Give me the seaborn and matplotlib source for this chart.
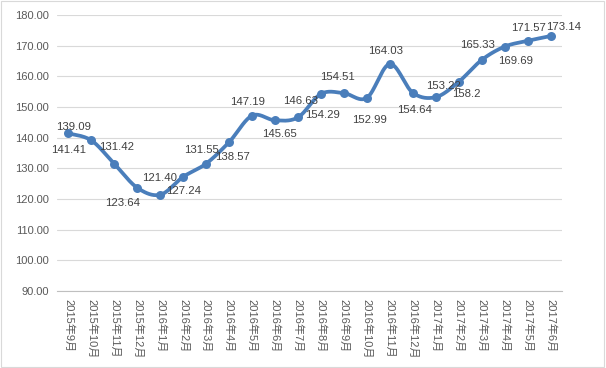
import numpy as np
import pandas as pd
import matplotlib
matplotlib.use("Agg")
import matplotlib.pyplot as plt
import seaborn as sns
from matplotlib.patches import Rectangle

months = ["2015年9月", "2015年10月", "2015年11月", "2015年12月", "2016年1月", "2016年2月",
          "2016年3月", "2016年4月", "2016年5月", "2016年6月", "2016年7月", "2016年8月",
          "2016年9月", "2016年10月", "2016年11月", "2016年12月", "2017年1月", "2017年2月",
          "2017年3月", "2017年4月", "2017年5月", "2017年6月"]
values = [141.41, 139.09, 131.42, 123.64, 121.40, 127.24, 131.55, 138.57, 147.19, 145.65,
          146.63, 154.29, 154.51, 152.99, 164.03, 154.64, 153.22, 158.2, 165.33, 169.69,
          171.57, 173.14]
value_labels = ["141.41", "139.09", "131.42", "123.64", "121.40", "127.24", "131.55", "138.57",
                "147.19", "145.65", "146.63", "154.29", "154.51", "152.99", "164.03", "154.64",
                "153.22", "158.2", "165.33", "169.69", "171.57", "173.14"]
y_ticks = [90, 100, 110, 120, 130, 140, 150, 160, 170, 180]

# label offsets in pixels (dx, dy with y down) - layout only
label_offsets = [(0, 17), (-18, -13), (2, -17), (-15, 15), (-1, -17), (0, 14), (-5, -14),
                 (3, 15), (-5, -14), (4, 14), (3, -16), (2, 21), (-6, -16), (3, 22),
                 (-4, -13), (2, 17), (8, -11), (8, 12), (-4, -15), (11, 14), (1, -13), (13, -9)]

sns.set_theme(style="white")
plt.rcParams['font.family'] = ['Liberation Sans', 'Noto Sans CJK SC', 'DejaVu Sans']

fig = plt.figure(figsize=(6.06, 3.68), dpi=100)
ax = fig.add_axes([57 / 606, 1 - 291 / 368, 505 / 606, 276 / 368])

df = pd.DataFrame({"x": np.arange(len(values)), "y": values})

# Smoothed curve (Catmull-Rom style, like Excel's smoothed line)
x = df["x"].to_numpy(dtype=float)
y = df["y"].to_numpy(dtype=float)
px = np.concatenate([[x[0]], x, [x[-1]]])
py = np.concatenate([[y[0]], y, [y[-1]]])
sx, sy = [], []
t = np.linspace(0, 1, 30)
for i in range(1, len(px) - 2):
    p0 = np.array([px[i], py[i]])
    p3 = np.array([px[i + 1], py[i + 1]])
    c1 = p0 + (np.array([px[i + 1], py[i + 1]]) - np.array([px[i - 1], py[i - 1]])) / 6
    c2 = p3 - (np.array([px[i + 2], py[i + 2]]) - np.array([px[i], py[i]])) / 6
    b = ((1 - t) ** 3)[:, None] * p0 + (3 * (1 - t) ** 2 * t)[:, None] * c1 + \
        (3 * (1 - t) * t ** 2)[:, None] * c2 + (t ** 3)[:, None] * p3
    sx.extend(b[:, 0]); sy.extend(b[:, 1])
smooth = pd.DataFrame({"x": sx, "y": sy})

line_color = "#4A7EBB"
sns.lineplot(data=smooth, x="x", y="y", ax=ax, color=line_color, linewidth=2.7,
             sort=False, estimator=None, zorder=3)
sns.scatterplot(data=df, x="x", y="y", ax=ax, color=line_color, s=42,
                edgecolor=line_color, linewidth=0, zorder=4)

for i, (lab, off) in enumerate(zip(value_labels, label_offsets)):
    ax.annotate(lab, (i, values[i]), xytext=(off[0], -off[1]), textcoords="offset pixels",
                ha="center", va="center", fontsize=8.2, color="#404040", zorder=5)

ax.set_xlim(-0.5, len(values) - 0.5)
ax.set_ylim(90, 180)
ax.set_yticks(y_ticks)
ax.set_yticklabels([f"{v:.2f}" for v in y_ticks], fontsize=8, color="#595959")
ax.set_xticks(np.arange(len(months)))
ax.set_xticklabels(months, rotation=-90, fontsize=8, color="#595959", va="top", ha="center")
ax.tick_params(axis="x", length=0, pad=6)
ax.tick_params(axis="y", length=0, pad=6)
ax.set_xticks(np.arange(len(months) + 1) - 0.5, minor=True)
ax.tick_params(axis="x", which="minor", length=4, color="#BFBFBF", width=0.8, direction="out")
ax.grid(axis="y", color="#D9D9D9", linewidth=0.8)
ax.grid(axis="x", visible=False)
ax.set_axisbelow(True)
for s in ["top", "right", "left"]:
    ax.spines[s].set_visible(False)
ax.spines["bottom"].set_color("#BFBFBF")
ax.spines["bottom"].set_linewidth(0.8)
ax.set_xlabel("")
ax.set_ylabel("")

fig.patches.append(Rectangle((0.002, 0.003), 0.995, 0.993, transform=fig.transFigure,
                             fill=False, edgecolor="#D9D9D9", linewidth=0.8))

fig.savefig("out.png", dpi=100)
